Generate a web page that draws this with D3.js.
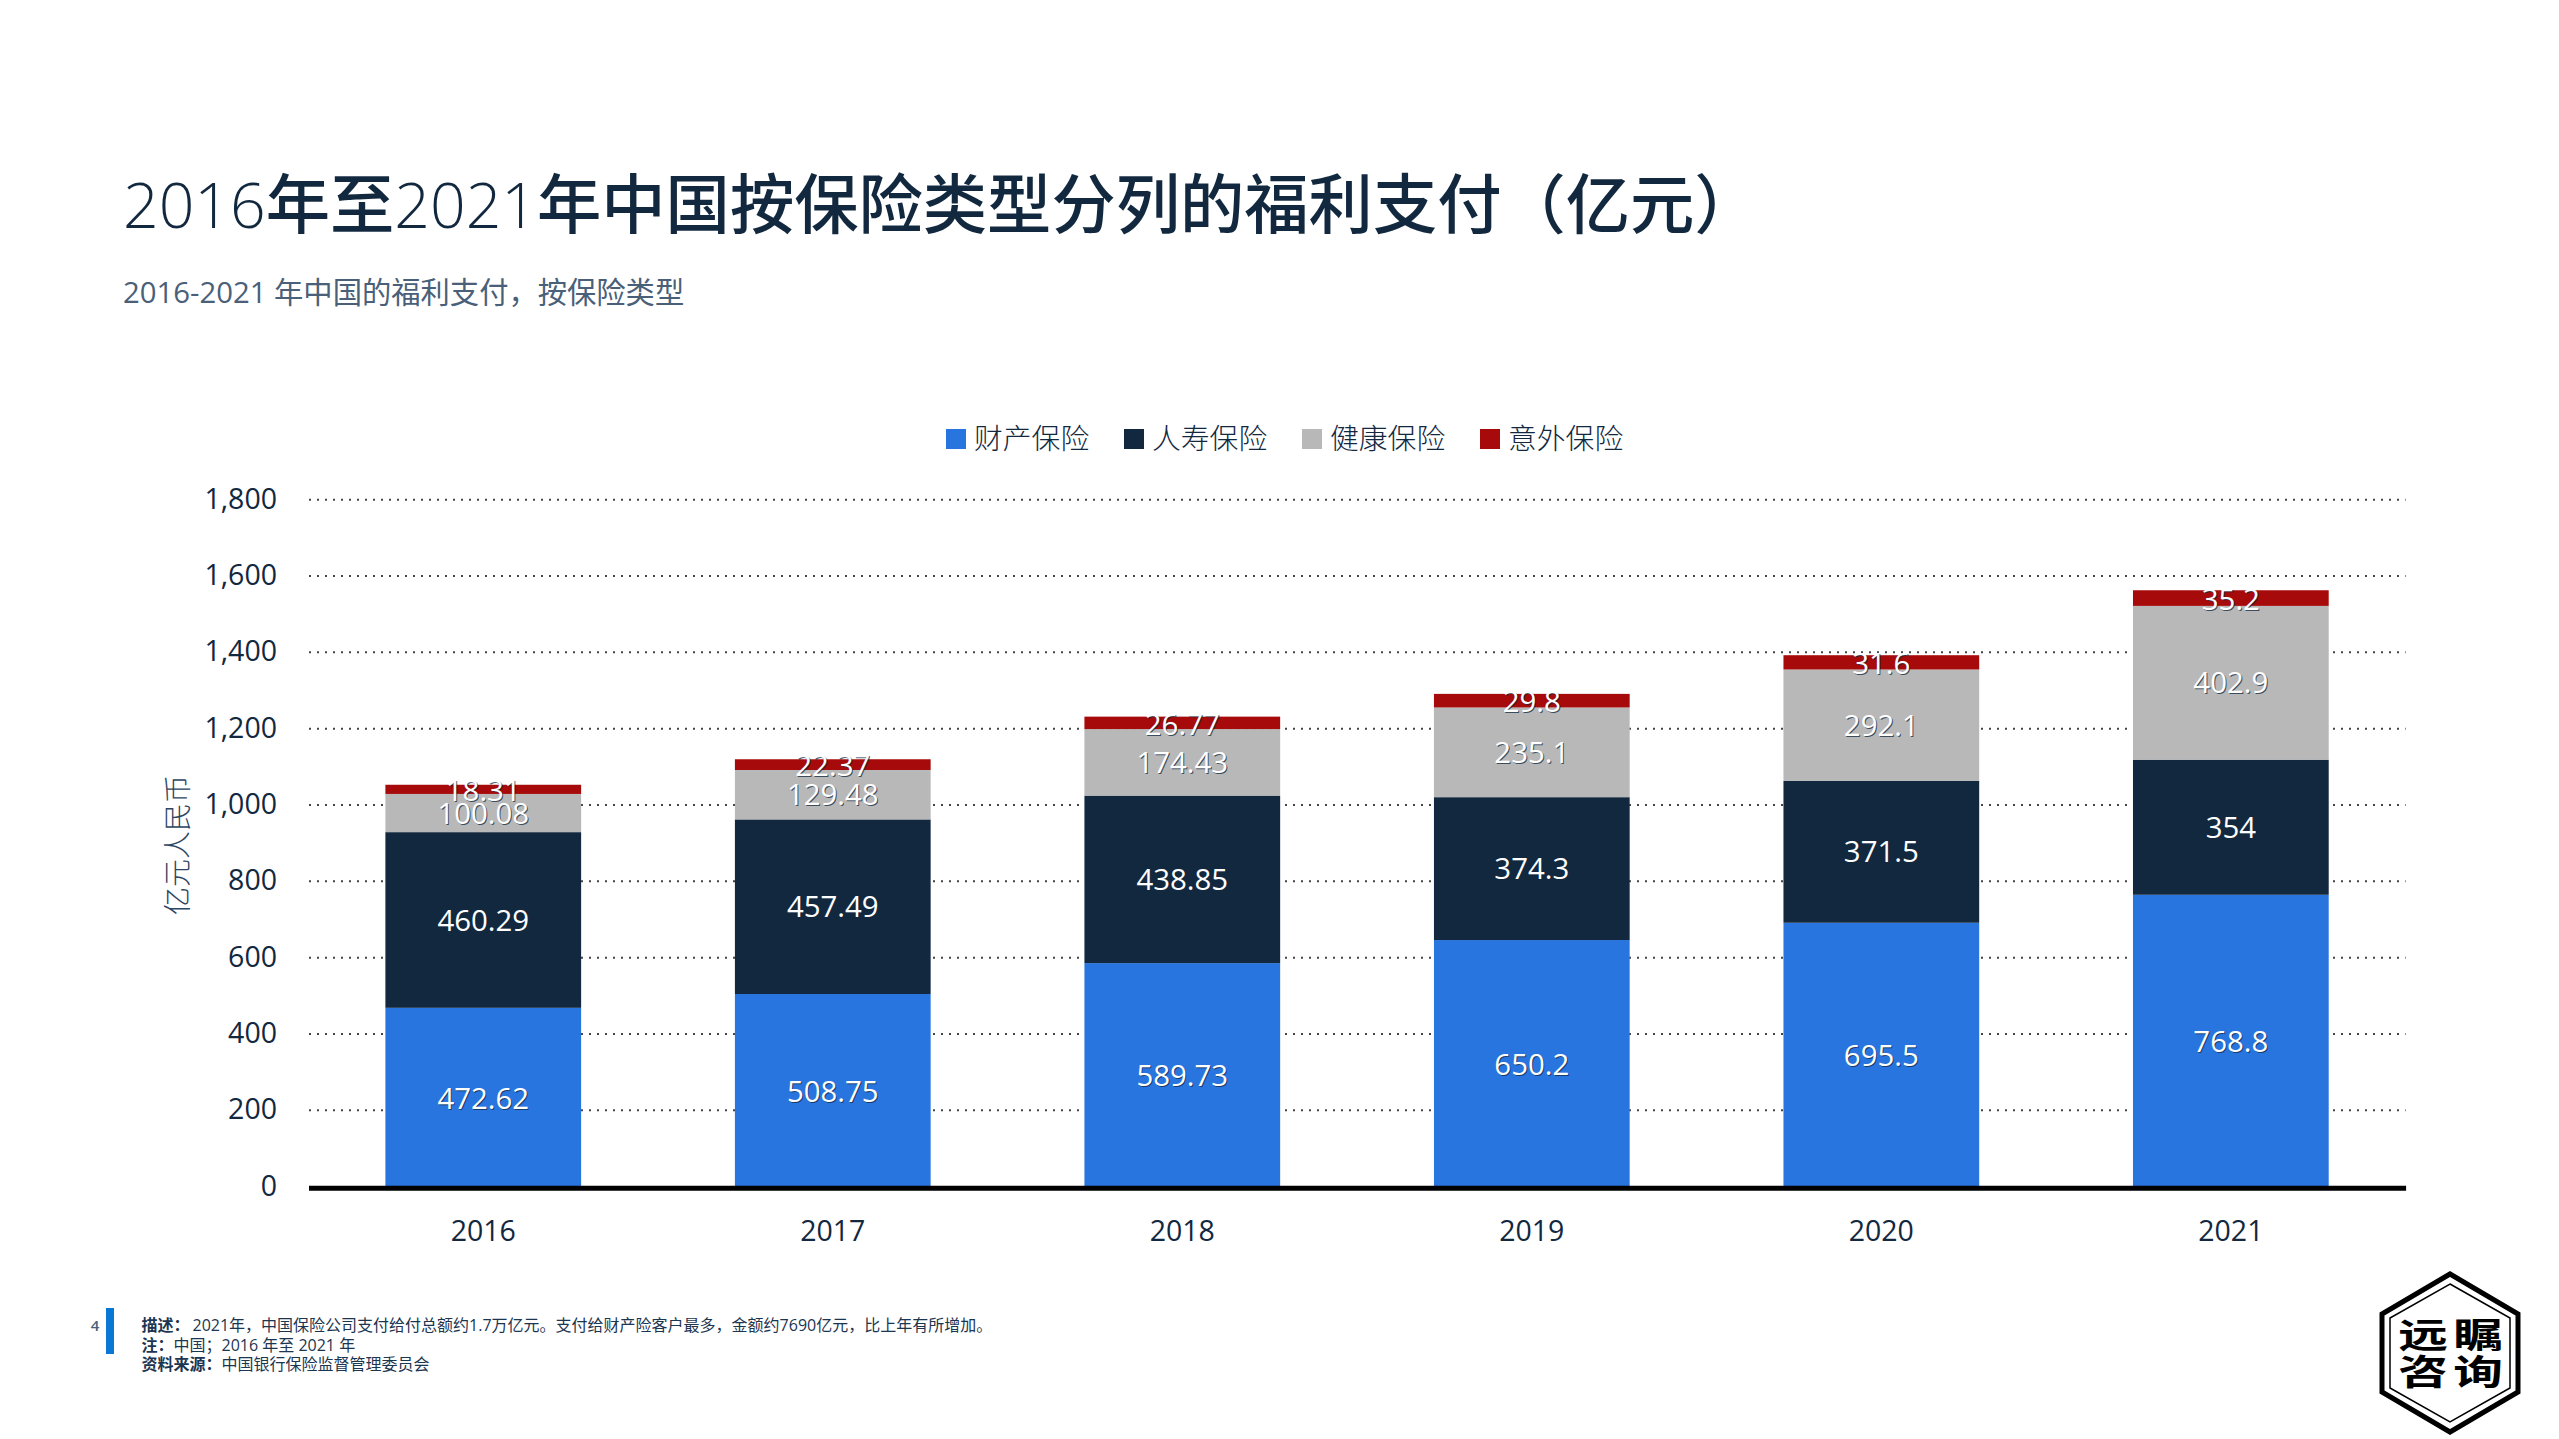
<!DOCTYPE html>
<html>
<head>
<meta charset="utf-8">
<title>福利支付</title>
<style>
  body { margin: 0; background: #fff; }
  text { font-family: "Open Sans", "Noto Sans CJK SC", sans-serif; }
</style>
</head>
<body>
<script src="https://d3js.org/d3.v7.min.js"></script>
<script>
var years = ["2016", "2017", "2018", "2019", "2020", "2021"];
var seriesNames = ["财产保险", "人寿保险", "健康保险", "意外保险"];
var property = [472.62, 508.75, 589.73, 650.2, 695.5, 768.8];
var life = [460.29, 457.49, 438.85, 374.3, 371.5, 354];
var health = [100.08, 129.48, 174.43, 235.1, 292.1, 402.9];
var accident = [18.31, 22.37, 26.77, 29.8, 31.6, 35.2];
var yTicks = [0, 200, 400, 600, 800, 1000, 1200, 1400, 1600, 1800];
var colors = ["#2875e0", "#12283f", "#b8b8b8", "#a60a0a"];
var footNotes = [
  ["描述：", "2021年，中国保险公司支付给付总额约1.7万亿元。支付给财产险客户最多，金额约7690亿元，比上年有所增加。"],
  ["注：", "中国；2016 年至 2021 年"],
  ["资料来源：", "中国银行保险监督管理委员会"]
];

var navy = "#12283f";

var svg = d3.select("body").append("svg")
    .attr("width", 2559)
    .attr("height", 1439);

// header: digits are light latin, the rest a slightly larger CJK face
var titleText = "2016年至2021年中国按保险类型分列的福利支付（亿元）";
svg.append("text")
    .attr("x", 123).attr("y", 228)
    .attr("fill", navy)
    .selectAll("tspan")
    .data(titleText.match(/\d+|\D+/g))
    .enter().append("tspan")
    .attr("font-size", function(d) { return /\d/.test(d) ? 62.5 : 64.3; })
    .attr("font-weight", function(d) { return /\d/.test(d) ? 300 : 500; })
    .text(function(d) { return d; });
svg.append("text")
    .attr("x", 123).attr("y", 303)
    .attr("font-size", 29.3).attr("fill", "#4a6079")
    .text("2016-2021 年中国的福利支付，按保险类型");

// scales
var x = d3.scaleBand().domain(years).range([308.5, 2405.6]).paddingInner(0.44).paddingOuter(0.22);
var y = d3.scaleLinear().domain([0, 1800]).range([1186.7, 499.7]);
// bars sit a touch lower than the gridlines in the source
var yBar = d3.scaleLinear().domain([0, 1800]).range([1188.2, 501.2]);

// grid
svg.append("g").selectAll("line")
    .data(yTicks.filter(function(d) { return d > 0; }))
    .enter().append("line")
    .attr("x1", 309).attr("x2", 2405.6)
    .attr("y1", function(d) { return y(d); })
    .attr("y2", function(d) { return y(d); })
    .attr("stroke", "#444")
    .attr("stroke-width", 2)
    .attr("stroke-dasharray", "2 6");

// stacked bars
var rows = years.map(function(yr, i) {
  return { year: yr, 0: property[i], 1: life[i], 2: health[i], 3: accident[i] };
});
var stacked = d3.stack().keys([0, 1, 2, 3])(rows);

var layers = svg.selectAll(".layer").data(stacked).enter().append("g").attr("class", "layer");
layers.each(function(layer) {
  // top segment is drawn about 2px taller
  var cap = layer.key === 3 ? 2.2 : 0;
  d3.select(this).selectAll("rect")
      .data(layer)
      .enter().append("rect")
      .attr("x", function(d) { return x(d.data.year); })
      .attr("width", x.bandwidth())
      .attr("y", function(d) { return yBar(d[1]) - cap; })
      .attr("height", function(d) { return yBar(d[0]) - yBar(d[1]) + cap; })
      .attr("fill", colors[layer.key]);
});

layers.selectAll("text")
    .data(function(d) {
      return d.map(function(p) { return { p: p, v: p.data[d.key] }; });
    })
    .enter().append("text")
    .attr("x", function(d) { return x(d.p.data.year) + x.bandwidth() / 2; })
    .attr("y", function(d) { return yBar((d.p[0] + d.p[1]) / 2); })
    .attr("dy", "0.36em")
    .attr("text-anchor", "middle")
    .attr("font-size", 29.4)
    .attr("fill", "#fff")
    .style("text-shadow", "1px 1px 0.6px rgba(18,40,63,0.75)")
    .text(function(d) { return d.v; });

// axes
var yAxis = d3.axisLeft(y).tickValues(yTicks).tickSize(0).tickPadding(0).tickFormat(d3.format(","));
var gy = svg.append("g").attr("transform", "translate(277,0)").call(yAxis);
gy.select(".domain").remove();
gy.selectAll("text").attr("font-size", 28.5).attr("dy", "0.3em").attr("fill", navy).style("font-family", null);

var xAxis = d3.axisBottom(x).tickSize(0).tickPadding(0);
var gx = svg.append("g").attr("transform", "translate(0,1187.7)").call(xAxis);
gx.select(".domain").attr("stroke", "#000").attr("stroke-width", 5);
gx.selectAll("text")
    .attr("y", 53.5).attr("dy", 0)
    .attr("font-size", 28.5).attr("fill", navy).style("font-family", null);

svg.append("text")
    .attr("transform", "translate(187.5,845) rotate(-90)")
    .attr("text-anchor", "middle")
    .attr("font-size", 28).attr("font-weight", 300).attr("fill", "#2c4560")
    .text("亿元人民币");

// legend
var legend = svg.selectAll(".legend").data(seriesNames).enter().append("g")
    .attr("class", "legend")
    .attr("transform", function(d, i) { return "translate(" + (946 + i * 178) + ",429)"; });
legend.append("rect")
    .attr("width", 20).attr("height", 20)
    .attr("fill", function(d, i) { return colors[i]; });
legend.append("text")
    .attr("x", 28).attr("y", 20)
    .attr("font-size", 28.8).attr("font-weight", 300).attr("fill", navy)
    .text(function(d) { return d; });

// footer
svg.append("rect")
    .attr("x", 106).attr("y", 1308).attr("width", 8).attr("height", 46)
    .attr("fill", "#0a77d5");
svg.append("text")
    .attr("x", 95).attr("y", 1331).attr("text-anchor", "middle")
    .attr("font-size", 15).attr("font-weight", 600).attr("fill", "#4a6079")
    .text("4");
var notes = svg.selectAll(".note").data(footNotes).enter().append("text")
    .attr("class", "note")
    .attr("x", 141.5)
    .attr("y", function(d, i) { return 1331 + i * 19.5; })
    .attr("font-size", 16).attr("fill", "#1c3550");
notes.append("tspan").attr("font-weight", 700).text(function(d) { return d[0]; });
notes.append("tspan").attr("dx", function(d, i) { return i === 0 ? 3 : 0; }).text(function(d) { return d[1]; });

// logo
var logo = svg.append("g").attr("transform", "translate(2450,1353)");
var hexOuter = [[0, -79], [68, -39], [68, 39], [0, 79], [-68, 39], [-68, -39]];
var hexInner = [[0, -69], [60, -35], [60, 35], [0, 69], [-60, 35], [-60, -35]];
logo.append("polygon").attr("points", hexOuter.join(" "))
    .attr("fill", "#fff").attr("stroke", "#000").attr("stroke-width", 5);
logo.append("polygon").attr("points", hexInner.join(" "))
    .attr("fill", "none").attr("stroke", "#000").attr("stroke-width", 1.5);
var logoChars = [["远", -27, -5], ["瞩", 28, -5], ["咨", -27, 32], ["询", 28, 32]];
logo.selectAll(".lc").data(logoChars).enter().append("text")
    .attr("class", "lc")
    .attr("transform", function(d) { return "translate(" + d[1] + "," + d[2] + ") scale(1.42,1)"; })
    .attr("text-anchor", "middle")
    .attr("font-size", 35).attr("font-weight", 700).attr("fill", "#000")
    .text(function(d) { return d[0]; });
</script>
</body>
</html>
